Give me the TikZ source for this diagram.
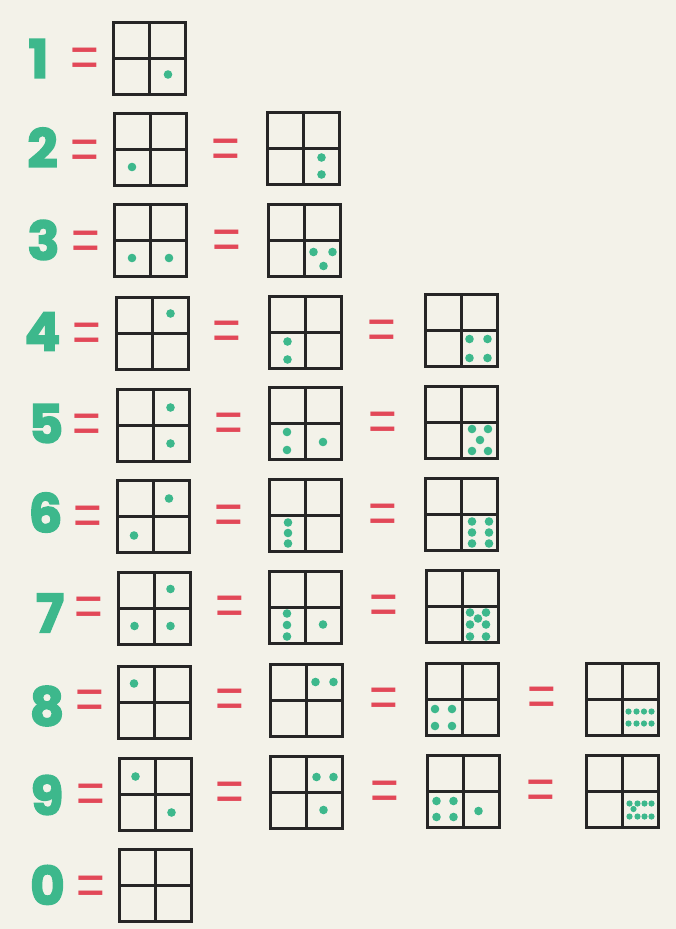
\documentclass[tikz,border=0pt]{standalone}
\usepackage{fontspec}
\usetikzlibrary{calc}
\newfontfamily\cifras{Poppins Bold}[FakeBold=3]
\newfontfamily\signos{Liberation Sans}
\definecolor{numverde}{RGB}{61,184,140}
\definecolor{igualrojo}{RGB}{226,72,88}
\definecolor{papel}{RGB}{243,242,233}
\definecolor{tinta}{RGB}{38,38,38}
% puntos verdes relativos al centro de una caja
\newcommand{\puntos}[2]{\foreach \dx/\dy in {#2} {\fill[punto] ($(#1)+(\dx,\dy)$) circle[radius=4.3];}}
\newcommand{\puntitos}[2]{\foreach \dx/\dy in {#2} {\fill[punto] ($(#1)+(\dx,\dy)$) circle[radius=3.1];}}
\newcommand{\igualdad}{\scalebox{0.82}[1]{=}}

\begin{document}
\begin{tikzpicture}[
    x=1pt, y=-1pt,
    caja/.style={draw=tinta, line width=3pt, minimum size=72pt, inner sep=0pt},
    linea/.style={draw=tinta, line width=3pt},
    punto/.style={fill=numverde},
    numero/.style={text=numverde, font=\cifras\fontsize{53}{53}\selectfont, inner sep=0pt},
    igual/.style={text=igualrojo, font=\signos\fontsize{60}{60}\selectfont, inner sep=0pt, yshift=-4pt}
]

% Fondo de papel
\fill[papel] (0,0) rectangle (676,929);
\useasboundingbox (0,0) rectangle (676,929);

% Cifras de la izquierda
\node[numero] (num1) at (38.5,58.5) {1};
\node[numero] (num2) at (42.5,147.5) {2};
\node[numero] (num3) at (43.5,240) {3};
\node[numero] (num4) at (42.5,331.5) {4};
\node[numero] (num5) at (46,423.5) {5};
\node[numero] (num6) at (45.5,512.5) {6};
\node[numero] (num7) at (50,613) {7};
\node[numero] (num8) at (47,706) {8};
\node[numero] (num9) at (47,795) {9};
\node[numero] (num0) at (47.5,885) {0};

% Signos de igual
\node[igual] (eq1a) at (84.5,59) {\igualdad};
\node[igual] (eq2a) at (85,150.5) {\igualdad};
\node[igual] (eq2b) at (225.5,149.5) {\igualdad};
\node[igual] (eq3a) at (86,241.5) {\igualdad};
\node[igual] (eq3b) at (226.5,240.5) {\igualdad};
\node[igual] (eq4a) at (86.5,333.5) {\igualdad};
\node[igual] (eq4b) at (227,332) {\igualdad};
\node[igual] (eq4c) at (381.5,331) {\igualdad};
\node[igual] (eq5a) at (87,425) {\igualdad};
\node[igual] (eq5b) at (228.5,423.5) {\igualdad};
\node[igual] (eq5c) at (382.5,422.5) {\igualdad};
\node[igual] (eq6a) at (87.5,517) {\igualdad};
\node[igual] (eq6b) at (229,515.5) {\igualdad};
\node[igual] (eq6c) at (383,515) {\igualdad};
\node[igual] (eq7a) at (88.5,608) {\igualdad};
\node[igual] (eq7b) at (229.5,606.5) {\igualdad};
\node[igual] (eq7c) at (383.5,605.5) {\igualdad};
\node[igual] (eq8a) at (89.5,701) {\igualdad};
\node[igual] (eq8b) at (230,699.5) {\igualdad};
\node[igual] (eq8c) at (384,699) {\igualdad};
\node[igual] (eq8d) at (541.5,698) {\igualdad};
\node[igual] (eq9a) at (90.5,794.5) {\igualdad};
\node[igual] (eq9b) at (230,793) {\igualdad};
\node[igual] (eq9c) at (384.5,792) {\igualdad};
\node[igual] (eq9d) at (541,791) {\igualdad};
\node[igual] (eq0a) at (91,887) {\igualdad};

% Cajas de cuatro casillas
\node[caja] (c1a) at (149.5,58.5) {};
\node[caja] (c2a) at (150.5,149.5) {};
\node[caja] (c2b) at (303.5,148.5) {};
\node[caja] (c3a) at (150.5,240.5) {};
\node[caja] (c3b) at (304.5,240.5) {};
\node[caja] (c4a) at (152.5,333.5) {};
\node[caja] (c4b) at (305.5,332.5) {};
\node[caja] (c4c) at (461.5,330.5) {};
\node[caja] (c5a) at (153.5,425.5) {};
\node[caja] (c5b) at (305.5,423.5) {};
\node[caja] (c5c) at (461.5,422.5) {};
\node[caja] (c6a) at (153.5,516.5) {};
\node[caja] (c6b) at (305.5,515.5) {};
\node[caja] (c6c) at (461.5,514.5) {};
\node[caja] (c7a) at (154.5,608.5) {};
\node[caja] (c7b) at (305.5,607.5) {};
\node[caja] (c7c) at (462.5,606.5) {};
\node[caja] (c8a) at (154.5,702.5) {};
\node[caja] (c8b) at (306.5,700.5) {};
\node[caja] (c8c) at (462.5,699.5) {};
\node[caja] (c8d) at (622.5,699.5) {};
\node[caja] (c9a) at (155.5,794.5) {};
\node[caja] (c9b) at (306.5,792.5) {};
\node[caja] (c9c) at (463.5,791.5) {};
\node[caja] (c9d) at (622.5,791.5) {};
\node[caja] (c0a) at (155.5,885.5) {};

% Cruz interior de cada caja
\foreach \c in {c1a,c2a,c2b,c3a,c3b,c4a,c4b,c4c,c5a,c5b,c5c,c6a,c6b,c6c,
                c7a,c7b,c7c,c8a,c8b,c8c,c8d,c9a,c9b,c9c,c9d,c0a}
    \draw[linea] (\c.north) -- (\c.south) (\c.west) -- (\c.east);

% Puntos
\puntos{c1a}{18.5/16}
\puntos{c2a}{-18.5/17.5}
\puntos{c2b}{18/9, 18/26}
\puntos{c3a}{-18.5/17.5, 18.5/17.5}
\puntos{c3b}{9/11.5, 28/11.5, 19/25.5}
\puntos{c4a}{18/-20}
\puntos{c4b}{-18/9, -18/27}
\puntos{c4c}{8/8.5, 26/8.5, 8/27.5, 26/27.5}
\puntos{c5a}{17/-18, 17/18}
\puntos{c5b}{-18.5/8.5, -18.5/26.5, 17.5/18.5}
\puntos{c5c}{10.5/6.5, 26.5/6.5, 18.5/17.5, 10.5/28.5, 26.5/28.5}
\puntos{c6a}{15.5/-18, -19.5/19}
\puntos{c6b}{-17.5/7, -17.5/17.5, -17.5/28}
\puntos{c6c}{10.5/7, 27.5/7, 10.5/18, 27.5/18, 10.5/29, 27.5/29}
\puntos{c7a}{16/-19.5, -20/17.5, 16/17.5}
\puntos{c7b}{-18.5/6, -18.5/17.5, -18.5/29, 17.5/17}
\puntos{c7c}{7.5/6, 23.5/6, 15.5/12, 7.5/18, 23.5/18, 7.5/30, 23.5/30}
\puntos{c8a}{-20.5/-19}
\puntos{c8b}{9/-18.5, 27/-18.5}
\puntos{c8c}{-27.5/9.5, -10.5/9.5, -27.5/26.5, -10.5/26.5}
\puntitos{c8d}{6/12, 14/12, 21.5/12, 29/12, 6/24, 14/24, 21.5/24, 29/24}
\puntos{c9a}{-20/-18, 16/18}
\puntos{c9b}{10/-15.5, 27/-15.5, 17/17.5}
\puntos{c9c}{-27/9.5, -10/9.5, -27/25.5, -10/25.5, 15/19.5}
\puntitos{c9d}{7/12, 15/12, 22/12, 29/12, 11/17.5, 7/25, 15/25, 22/25, 29/25}

\end{tikzpicture}
\end{document}
